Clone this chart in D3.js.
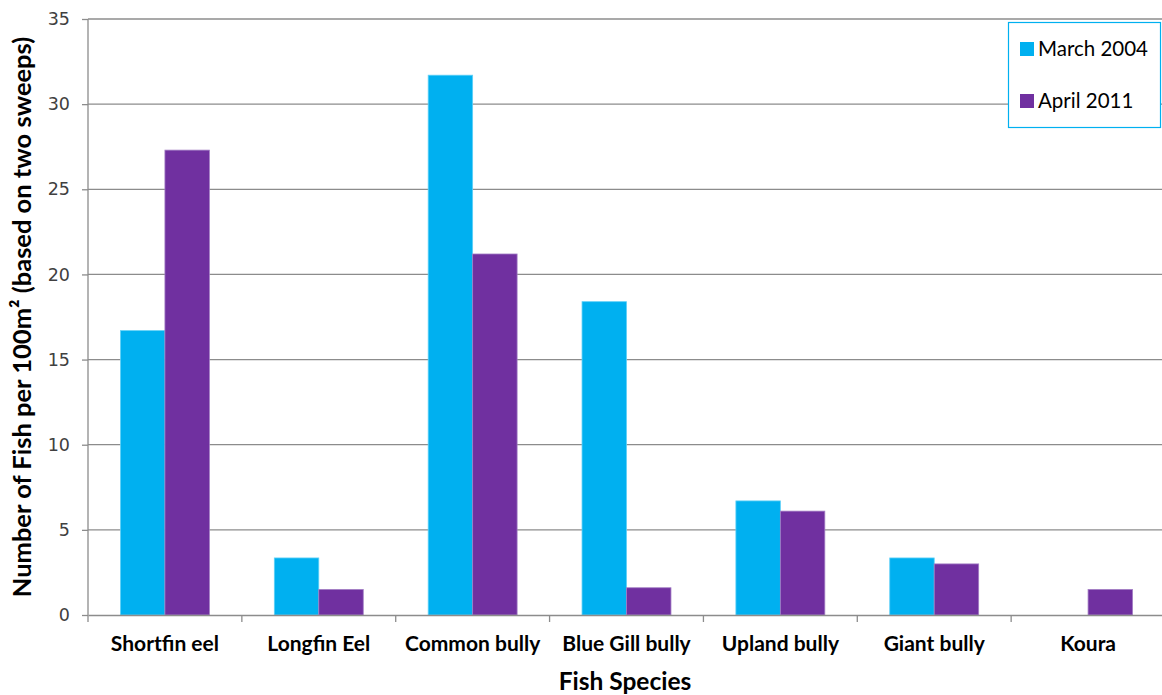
<!DOCTYPE html>
<html>
<head>
<meta charset="utf-8">
<script src="https://cdn.jsdelivr.net/npm/d3@7"></script>
<style>
  body { margin: 0; background: #fff; }
  svg { display: block; }
</style>
</head>
<body>
<svg id="chart" width="1162" height="695"></svg>
<script>
const categories = ["Shortfin eel", "Longfin Eel", "Common bully", "Blue Gill bully", "Upland bully", "Giant bully", "Koura"];
const seriesNames = ["March 2004", "April 2011"];
const march2004 = [16.7, 3.35, 31.7, 18.4, 6.7, 3.35, 0];
const april2011 = [27.3, 1.5, 21.2, 1.6, 6.1, 3.0, 1.5];
const yTicks = [0, 5, 10, 15, 20, 25, 30, 35];
const colors = ["#00B0F0", "#7030A0"];

(function () {
const svg = d3.select("#chart");
const pLeft = 88, pRight = 1165, pTop = 19, pBottom = 615;

const x0 = d3.scaleBand().domain(categories).range([pLeft, pRight]).padding(0);
const step = x0.bandwidth();
const barW = step * 0.289;
const x1 = d3.scaleBand().domain(seriesNames)
  .range([(step - 2 * barW) / 2, (step - 2 * barW) / 2 + 2 * barW]).padding(0);
const y = d3.scaleLinear().domain([0, 35]).range([pBottom, pTop]);

// gridlines
svg.append("g").selectAll("line").data(yTicks.filter(d => d > 0)).join("line")
  .attr("x1", pLeft).attr("x2", pRight)
  .attr("y1", d => y(d)).attr("y2", d => y(d))
  .attr("stroke", "#8c8c8c").attr("stroke-width", 1.3);

// bars
const data = categories.map((c, i) => ({ cat: c, vals: [march2004[i], april2011[i]] }));
const groups = svg.append("g").selectAll("g").data(data).join("g")
  .attr("transform", d => `translate(${x0(d.cat)},0)`);
groups.selectAll("rect").data(d => d.vals.map((v, j) => ({ s: seriesNames[j], v, j })).filter(e => e.v > 0))
  .join("rect")
  .attr("x", e => x1(e.s))
  .attr("width", x1.bandwidth())
  .attr("y", e => y(e.v))
  .attr("height", e => y(0) - y(e.v))
  .attr("fill", e => colors[e.j])
  .attr("stroke", e => e.j === 0 ? "#5fd0f7" : "#a27dc4")
  .attr("stroke-width", 0.8);

// y axis
const yAxis = d3.axisLeft(y).tickValues(yTicks).tickSize(6).tickPadding(12).tickFormat(d3.format("d"));
const ya = svg.append("g").attr("transform", `translate(${pLeft},0)`).call(yAxis);
ya.select(".domain").attr("stroke", "#8c8c8c").attr("stroke-width", 1.3).attr("d", `M-0,${pTop}V${pBottom}`);
ya.selectAll(".tick line").attr("stroke", "#8c8c8c").attr("stroke-width", 1.3);
ya.selectAll(".tick text").attr("font-family", "DejaVu Sans, sans-serif").attr("font-size", 17.5).attr("fill", "#404040");

// x axis
const xAxis = d3.axisBottom(x0).tickSize(0).tickPadding(21);
const xa = svg.append("g").attr("transform", `translate(0,${pBottom})`).call(xAxis);
xa.select(".domain").attr("stroke", "#8c8c8c").attr("stroke-width", 1.3);
xa.selectAll(".tick text").attr("font-family", "Lato, sans-serif").attr("font-weight", "bold")
  .attr("font-size", 21).attr("fill", "#000");
// category boundary ticks
const bounds = categories.map(c => x0(c)).concat([pRight]);
svg.append("g").selectAll("line").data(bounds).join("line")
  .attr("x1", d => d).attr("x2", d => d).attr("y1", pBottom).attr("y2", pBottom + 7)
  .attr("stroke", "#8c8c8c").attr("stroke-width", 1.3);

// axis titles
svg.append("text").attr("x", 625).attr("y", 690)
  .attr("text-anchor", "middle").attr("font-family", "Lato, sans-serif").attr("font-weight", "bold")
  .attr("font-size", 24.5).attr("fill", "#000").text("Fish Species");
svg.append("text").attr("transform", `translate(31,${(pTop + pBottom) / 2}) rotate(-90)`)
  .attr("text-anchor", "middle").attr("font-family", "Lato, sans-serif").attr("font-weight", "bold")
  .attr("font-size", 25.5).attr("fill", "#000").text("Number of Fish per 100m² (based on two sweeps)");

// legend
const lg = svg.append("g");
lg.append("rect").attr("x", 1008.5).attr("y", 22.5).attr("width", 152).attr("height", 105)
  .attr("fill", "#fff").attr("stroke", "#00B0F0").attr("stroke-width", 1.2);
seriesNames.forEach((s, i) => {
  const yy = 49 + i * 52;
  lg.append("rect").attr("x", 1020).attr("y", yy - 7).attr("width", 14).attr("height", 14).attr("fill", colors[i]);
  lg.append("text").attr("x", 1038).attr("y", yy + 7).attr("font-family", "Lato, sans-serif")
    .attr("font-size", 20.5).attr("fill", "#000").text(s);
});
})();
</script>
</body>
</html>
